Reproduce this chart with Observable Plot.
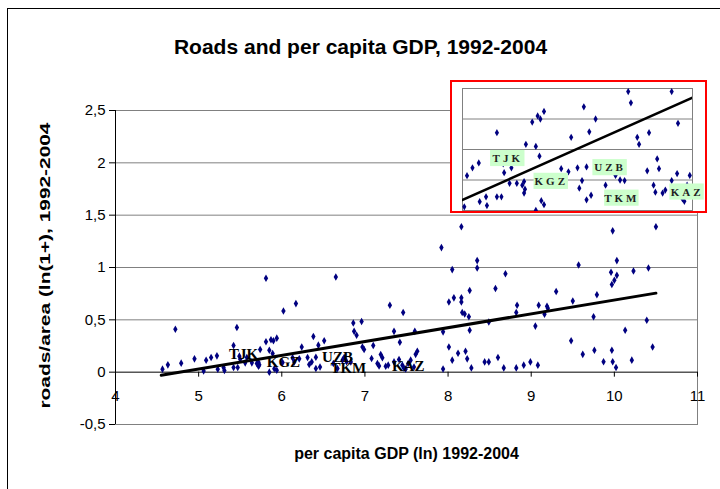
<!DOCTYPE html>
<html><head><meta charset="utf-8">
<script src="https://cdn.jsdelivr.net/npm/d3@7"></script>
<script src="https://cdn.jsdelivr.net/npm/@observablehq/plot@0.6"></script>
<style>
body{margin:0;background:#fff;}
#wrap{position:relative;width:720px;height:489px;overflow:hidden;font-family:"Liberation Sans",Arial,sans-serif;}
#border{position:absolute;left:7px;top:8px;width:720px;height:490px;border-left:1px solid #000;border-top:1px solid #000;}
#main{position:absolute;left:0;top:0;}
#inset{position:absolute;left:450px;top:80px;width:257px;height:133px;border:2px solid #ff0000;box-sizing:border-box;background:#fff;overflow:hidden}
#inset g[aria-label="text"] text{letter-spacing:3px}
</style></head><body>
<div id="wrap"><div id="border"></div><div id="main"></div><div id="inset"></div></div>
<script>
const gdp = [4.565,4.63,4.72,4.79,4.95,5.06,5.09,5.15,5.22,5.23,5.30,5.31,5.42,5.46,5.42,5.47,5.49,5.50,5.58,5.56,5.64,5.70,5.72,5.73,5.72,5.74,5.81,5.81,5.87,5.90,5.94,5.85,5.85,5.89,5.91,5.94,
 6.02,6.17,6.24,6.01,6.13,6.15,6.21,6.31,6.33,6.36,6.38,6.41,6.41,6.46,6.44,6.51,6.65,6.62,6.67,6.73,6.75,6.78,6.83,6.86,6.96,6.87,6.90,6.97,6.99,7.10,7.08,7.15,7.17,7.19,7.21,7.25,7.28,7.30,7.35,7.35,7.41,7.42,7.46,7.45,7.47,7.52,7.55,7.60,7.61,7.63,7.59,7.49,
 7.92,7.94,7.94,8.01,8.01,8.05,8.05,8.07,8.12,8.16,8.16,8.16,8.17,8.20,8.21,8.23,8.25,8.26,8.26,8.28,8.35,8.35,8.44,8.49,8.49,8.57,8.60,8.67,8.69,8.82,8.83,8.82,8.91,8.99,9.05,9.08,9.09,9.16,9.19,9.20,9.30,9.48,9.50,9.57,9.62,9.75,9.76,9.79,9.87,9.96,9.97,9.97,9.98,9.98,10.00,10.02,10.03,10.03,10.13,10.21,10.23,10.39,10.41,10.46,10.50];
const roads = [0.029,0.07,0.41,0.086,0.127,0.012,0.114,0.14,0.156,0.029,0.045,0.016,0.255,0.426,0.045,0.045,0.153,0.124,0.14,0.089,0.089,0.083,0.095,0.07,0.057,0.217,0.897,0.29,0.31,0.30,0.325,0.21,0.0,0.178,0.032,0.019,
 0.585,0.655,0.24,0.092,0.137,0.098,0.127,0.14,0.073,0.098,0.34,0.143,0.035,0.05,0.258,0.30,0.91,0.083,0.035,0.115,0.14,0.10,0.098,0.47,0.484,0.39,0.353,0.24,0.217,0.255,0.13,0.083,0.06,0.169,0.137,0.057,0.067,0.64,0.39,0.098,0.121,0.286,0.57,0.067,0.038,0.083,0.115,0.39,0.17,0.20,0.05,0.03,
 1.19,0.385,0.03,0.67,0.24,0.98,0.115,0.71,0.18,1.39,0.71,0.67,0.57,0.556,0.20,0.127,0.53,0.78,0.40,0.041,1.066,0.995,0.098,0.098,0.48,0.80,0.14,0.041,0.94,0.57,0.64,0.041,0.067,0.098,0.44,0.067,0.64,0.553,0.63,0.61,0.77,0.30,0.68,1.024,0.17,0.53,0.21,0.74,0.10,0.954,0.837,0.21,1.35,0.10,0.878,0.045,0.925,1.066,0.40,0.115,0.967,0.496,0.995,0.24,1.39];
const labelNames = ["TJK","KGZ","UZB","TKM","KAZ"];
const labelGdp = [5.54, 6.02, 6.67, 6.80, 7.52];
const labelRoads = [0.17, 0.095, 0.14, 0.04, 0.06];
const trendGdp = [4.55, 10.5];
const trendRoads = [-0.03, 0.755];
const xTicks = [4,5,6,7,8,9,10,11];
const yTicks = [-0.5,0,0.5,1,1.5,2,2.5];
const gridY = [0.5,1,1.5,2,2.5];
const insetGrid = [0.1,0.2,0.3];
const insetX = [5.04, 7.58];
const insetY = [0, 0.4];
const title = "Roads and per capita GDP, 1992-2004";
const xLabel = "per capita GDP (ln) 1992-2004";
const yLabel = "roads/area (ln(1+), 1992-2004";

const points = gdp.map((x,i)=>({x, y: roads[i]}));
const labels = labelNames.map((t,i)=>({t, x: labelGdp[i], y: labelRoads[i]}));
const trend = trendGdp.map((x,i)=>({x, y: trendRoads[i]}));

const W=720,H=489,mL=115,mR=23,mT=110,mB=65;
const yDom=[-0.5,2.5], xDom=[4,11];
const axisDy = -(H-mT-mB)*(0-yDom[0])/(yDom[1]-yDom[0]);
const fmt = d => String(d).replace(".", ",");
const sans = '"Liberation Sans", Arial, sans-serif';
const serif = '"Liberation Serif", "Times New Roman", serif';
const navy = "#000080";

const main = Plot.plot({
  width:W,height:H,marginLeft:mL,marginRight:mR,marginTop:mT,marginBottom:mB,
  style:{fontFamily:sans,fontSize:"15px",color:"#000",background:"transparent"},
  x:{domain:xDom, axis:null},
  y:{domain:yDom, axis:null},
  marks:[
    Plot.ruleY(gridY,{stroke:"#808080",strokeWidth:1}),
    Plot.frame({stroke:"#808080"}),
    Plot.ruleY([0],{stroke:"#000"}),
    Plot.ruleX([4],{stroke:"#000"}),
    Plot.axisY({ticks:yTicks,tickFormat:fmt,tickSize:6,tickPadding:4,fontSize:15,label:null,anchor:"left"}),
    Plot.axisX({ticks:xTicks,tickFormat:d=>String(d),tickSize:5,tickPadding:13,fontSize:15,label:null,anchor:"bottom",dy:axisDy}),
    Plot.dot(points,{x:"x",y:"y",r:2.3,symbol:"diamond",fill:navy,stroke:null}),
    Plot.line(trend,{x:"x",y:"y",stroke:"#000",strokeWidth:3}),
    Plot.text(labels,{x:"x",y:"y",text:"t",fontFamily:serif,fontWeight:"bold",fontSize:15,fill:"#000"}),
    Plot.text([title],{frameAnchor:"top",lineAnchor:"middle",textAnchor:"middle",dx:-46,dy:-63,fontWeight:"bold",fontSize:21}),
    Plot.text([xLabel],{frameAnchor:"bottom",lineAnchor:"middle",textAnchor:"middle",dy:29,fontWeight:"bold",fontSize:16}),
    Plot.text([yLabel],{frameAnchor:"left",lineAnchor:"middle",textAnchor:"middle",dx:-70,dy:-2,rotate:-90,fontWeight:"bold",fontSize:15})
  ]
});
document.getElementById("main").appendChild(main);
d3.select(main).selectAll("text").filter(function(){ return this.textContent === yLabel; })
  .attr("textLength", 286).attr("lengthAdjust", "spacingAndGlyphs");

const inPts = points.filter(p=>p.x>=insetX[0]&&p.x<=insetX[1]&&p.y>=insetY[0]&&p.y<=insetY[1]);
const inset = Plot.plot({
  width:253,height:129,marginLeft:10,marginRight:13,marginTop:6,marginBottom:1,
  style:{fontFamily:serif,background:"#fff",overflow:"visible"},
  x:{domain:insetX,axis:null},
  y:{domain:insetY,axis:null},
  marks:[
    Plot.ruleY(insetGrid,{stroke:"#808080"}),
    Plot.frame({stroke:"#808080"}),
    Plot.dot(inPts,{x:"x",y:"y",r:2.2,symbol:"diamond",fill:navy,stroke:null}),
    Plot.line(trend,{x:"x",y:"y",stroke:"#000",strokeWidth:2.5,clip:true}),
    Plot.rect(labels,{x1:d=>d.x-0.19,x2:d=>d.x+0.19,y1:d=>d.y-0.026,y2:d=>d.y+0.027,fill:"#ccffcc"}),
    Plot.text(labels,{x:"x",y:"y",text:"t",fontFamily:serif,fontWeight:"bold",fontSize:11,fill:"#222"})
  ]
});
document.getElementById("inset").appendChild(inset);
</script>
</body></html>
